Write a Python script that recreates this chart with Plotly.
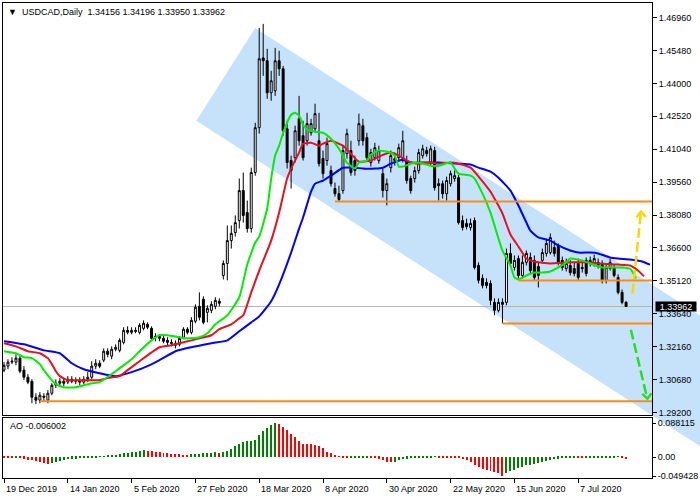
import plotly.graph_objects as go

# ---------------- data ----------------
date_ticks = [0, 16, 32, 48, 64, 80, 96, 112, 128, 144]
date_labels = ["19 Dec 2019", "14 Jan 2020", "5 Feb 2020", "27 Feb 2020", "18 Mar 2020",
               "8 Apr 2020", "30 Apr 2020", "22 May 2020", "15 Jun 2020", "7 Jul 2020"]

opens = [
    1.3110, 1.3128, 1.3146, 1.3146, 1.3164, 1.3110, 1.3078, 1.3060, 1.2988, 1.2975,
    1.2993, 1.2975, 1.3006, 1.3042, 1.3051, 1.3060, 1.3056, 1.3069, 1.3060, 1.3065,
    1.3056, 1.3069, 1.3078, 1.3128, 1.3141, 1.3155, 1.3195, 1.3173, 1.3204, 1.3199,
    1.3235, 1.3289, 1.3280, 1.3289, 1.3280, 1.3298, 1.3316, 1.3298, 1.3258, 1.3262,
    1.3253, 1.3244, 1.3235, 1.3231, 1.3226, 1.3258, 1.3294, 1.3280, 1.3330, 1.3397,
    1.3429, 1.3370, 1.3379, 1.3397, 1.3420, 1.3536, 1.3590, 1.3693, 1.3729, 1.3783,
    1.3918, 1.3819, 1.3747, 1.3999, 1.4201, 1.4515, 1.4502, 1.4358, 1.4367, 1.4502,
    1.4466, 1.4196, 1.4053, 1.4066, 1.4241, 1.4165, 1.4142, 1.4178, 1.4196, 1.4142,
    1.4062, 1.4053, 1.4008, 1.3927, 1.3904, 1.3918, 1.4084, 1.4098, 1.4053, 1.4142,
    1.4210, 1.4156, 1.4044, 1.4066, 1.4053, 1.3994, 1.3918, 1.4021, 1.4053, 1.4066,
    1.4062, 1.4053, 1.3972, 1.3972, 1.4008, 1.4075, 1.4098, 1.4044, 1.4098, 1.3949,
    1.3949, 1.3904, 1.3949, 1.3972, 1.3976, 1.3783, 1.3770, 1.3752, 1.3783, 1.3581,
    1.3523, 1.3505, 1.3500, 1.3415, 1.3379, 1.3415, 1.3415, 1.3635, 1.3572, 1.3612,
    1.3536, 1.3595, 1.3617, 1.3604, 1.3576, 1.3604, 1.3635, 1.3639, 1.3662, 1.3671,
    1.3604, 1.3567, 1.3581, 1.3567, 1.3590, 1.3572, 1.3604, 1.3604, 1.3590, 1.3595,
    1.3590, 1.3514, 1.3567, 1.3572, 1.3527, 1.3460, 1.34156]
highs = [
    1.3146, 1.3159, 1.3168, 1.3181, 1.3173, 1.3128, 1.3092, 1.3069, 1.3006, 1.3011,
    1.3006, 1.3020, 1.3051, 1.3069, 1.3074, 1.3074, 1.3083, 1.3083, 1.3078, 1.3078,
    1.3083, 1.3101, 1.3150, 1.3159, 1.3155, 1.3208, 1.3208, 1.3217, 1.3226, 1.3253,
    1.3303, 1.3307, 1.3303, 1.3303, 1.3321, 1.3334, 1.3325, 1.3307, 1.3276, 1.3271,
    1.3267, 1.3258, 1.3249, 1.3244, 1.3262, 1.3303, 1.3303, 1.3348, 1.3406, 1.3460,
    1.3442, 1.3402, 1.3420, 1.3438, 1.3433, 1.3604, 1.3761, 1.3761, 1.3806, 1.3972,
    1.3999, 1.3873, 1.4021, 1.4223, 1.4650, 1.4668, 1.4556, 1.4457, 1.4560, 1.4547,
    1.4479, 1.4232, 1.4075, 1.4210, 1.4344, 1.4232, 1.4268, 1.4241, 1.4309, 1.4268,
    1.4098, 1.4156, 1.4030, 1.3954, 1.3940, 1.4120, 1.4196, 1.4142, 1.4075, 1.4264,
    1.4241, 1.4178, 1.4106, 1.4133, 1.4120, 1.4017, 1.3972, 1.4098, 1.4089, 1.4129,
    1.4187, 1.4075, 1.3985, 1.4026, 1.4106, 1.4124, 1.4115, 1.4120, 1.4115, 1.3972,
    1.3963, 1.3981, 1.4008, 1.4008, 1.3990, 1.3806, 1.3792, 1.3792, 1.3797, 1.3595,
    1.3541, 1.3523, 1.3514, 1.3433, 1.3433, 1.3433, 1.3657, 1.3680, 1.3626, 1.3626,
    1.3626, 1.3648, 1.3639, 1.3626, 1.3595, 1.3657, 1.3702, 1.3725, 1.3693, 1.3680,
    1.3621, 1.3612, 1.3604, 1.3595, 1.3612, 1.3595, 1.3617, 1.3621, 1.3630, 1.3612,
    1.3604, 1.3585, 1.3612, 1.3585, 1.3541, 1.3473, 1.34196]
lows = [
    1.3101, 1.3114, 1.3137, 1.3132, 1.3096, 1.3065, 1.3047, 1.2961, 1.2957, 1.2961,
    1.2970, 1.2961, 1.2997, 1.3029, 1.3038, 1.3038, 1.3047, 1.3051, 1.3047, 1.3042,
    1.3047, 1.3056, 1.3069, 1.3114, 1.3119, 1.3146, 1.3168, 1.3159, 1.3195, 1.3190,
    1.3226, 1.3271, 1.3271, 1.3276, 1.3271, 1.3289, 1.3294, 1.3244, 1.3240, 1.3240,
    1.3231, 1.3222, 1.3217, 1.3208, 1.3217, 1.3249, 1.3271, 1.3271, 1.3321, 1.3334,
    1.3316, 1.3325, 1.3366, 1.3384, 1.3397, 1.3518, 1.3514, 1.3657, 1.3711, 1.3747,
    1.3774, 1.3729, 1.3729, 1.3985, 1.4174, 1.4434, 1.4331, 1.4322, 1.4344, 1.4434,
    1.4165, 1.4017, 1.3927, 1.4044, 1.4120, 1.4053, 1.4120, 1.4165, 1.4183, 1.4026,
    1.3972, 1.4030, 1.3936, 1.3891, 1.3869, 1.3904, 1.4062, 1.3985, 1.3985, 1.4120,
    1.4120, 1.4053, 1.4026, 1.4053, 1.4039, 1.3887, 1.3851, 1.3999, 1.4030, 1.4053,
    1.4044, 1.3949, 1.3904, 1.3954, 1.3994, 1.4062, 1.4071, 1.4030, 1.3918, 1.3873,
    1.3882, 1.3873, 1.3936, 1.3958, 1.3765, 1.3738, 1.3743, 1.3738, 1.3563, 1.3500,
    1.3478, 1.3478, 1.3402, 1.3357, 1.3370, 1.3321, 1.3402, 1.3576, 1.3558, 1.3523,
    1.3523, 1.3581, 1.3541, 1.3514, 1.3482, 1.3590, 1.3621, 1.3630, 1.3621, 1.3581,
    1.3558, 1.3554, 1.3536, 1.3532, 1.3514, 1.3549, 1.3532, 1.3576, 1.3576, 1.3567,
    1.3500, 1.3500, 1.3558, 1.3527, 1.3451, 1.3406, 1.33950]
closes = [
    1.3132, 1.3146, 1.3150, 1.3164, 1.3105, 1.3078, 1.3056, 1.2988, 1.2975, 1.2997,
    1.2988, 1.3006, 1.3042, 1.3051, 1.3060, 1.3051, 1.3069, 1.3060, 1.3065, 1.3056,
    1.3069, 1.3078, 1.3128, 1.3141, 1.3128, 1.3195, 1.3181, 1.3204, 1.3213, 1.3244,
    1.3289, 1.3280, 1.3289, 1.3285, 1.3312, 1.3321, 1.3303, 1.3253, 1.3262, 1.3253,
    1.3240, 1.3235, 1.3231, 1.3222, 1.3253, 1.3294, 1.3280, 1.3334, 1.3393, 1.3348,
    1.3325, 1.3388, 1.3406, 1.3424, 1.3411, 1.3590, 1.3693, 1.3725, 1.3774, 1.3918,
    1.3806, 1.3747, 1.3999, 1.4201, 1.4511, 1.4502, 1.4358, 1.4412, 1.4502, 1.4466,
    1.4187, 1.4044, 1.4008, 1.4187, 1.4142, 1.4066, 1.4219, 1.4219, 1.4264, 1.4039,
    1.3994, 1.4129, 1.3949, 1.3904, 1.3878, 1.4098, 1.4174, 1.3999, 1.4008, 1.4219,
    1.4142, 1.4066, 1.4089, 1.4111, 1.4098, 1.3918, 1.3949, 1.4075, 1.4062, 1.4111,
    1.4142, 1.3963, 1.3918, 1.4008, 1.4089, 1.4106, 1.4084, 1.4106, 1.3931, 1.3940,
    1.3904, 1.3963, 1.3994, 1.3985, 1.3774, 1.3752, 1.3756, 1.3770, 1.3572, 1.3514,
    1.3491, 1.3491, 1.3424, 1.3379, 1.3415, 1.3406, 1.3635, 1.3590, 1.3604, 1.3536,
    1.3595, 1.3635, 1.3558, 1.3527, 1.3536, 1.3639, 1.3680, 1.3707, 1.3635, 1.3595,
    1.3572, 1.3590, 1.3549, 1.3545, 1.3527, 1.3567, 1.3545, 1.3590, 1.3612, 1.3581,
    1.3514, 1.3572, 1.3595, 1.3536, 1.3460, 1.3415, 1.33962]
bars = list(range(len(closes)))

# Alligator lines (bar index, price)
jaw_i = [0, 5, 10, 14, 17, 20, 24, 28, 32, 36, 39, 43, 47, 52, 56, 59, 62, 64, 67, 69,
         72, 74, 75, 77, 78, 80, 82, 85, 88, 90, 93, 95, 97, 100, 102, 105, 109, 114, 117, 119,
         122, 124, 127, 129, 131, 132, 134, 137, 139, 142, 144, 147, 149, 152, 154, 157, 160, 162]
jaw_p = [1.3240, 1.3226, 1.3199, 1.3186, 1.3141, 1.3114, 1.3096, 1.3083, 1.3101, 1.3128,
         1.3155, 1.3195, 1.3213, 1.3231, 1.3244, 1.3285, 1.3325, 1.3352, 1.3420, 1.3496,
         1.3639, 1.3747, 1.3797, 1.3913, 1.3949, 1.3963, 1.3985, 1.4021, 1.4021, 1.4017,
         1.4017, 1.4021, 1.4039, 1.4057, 1.4044, 1.4044, 1.4044, 1.4039, 1.4035, 1.4021,
         1.4003, 1.3976, 1.3918, 1.3851, 1.3774, 1.3738, 1.3707, 1.3693, 1.3671, 1.3648,
         1.3639, 1.3639, 1.3635, 1.3617, 1.3612, 1.3608, 1.3599, 1.3585]
teeth_i = [0, 3, 6, 9, 11, 12, 13, 14, 16, 20, 24, 26, 29, 31, 34, 37, 39, 42, 44, 47,
           49, 52, 54, 57, 59, 60, 62, 64, 67, 69, 71, 72, 74, 75, 77, 79, 80, 82, 85, 87,
           89, 92, 94, 97, 99, 102, 104, 107, 109, 112, 114, 117, 119, 122, 123, 125, 127, 129, 131, 132,
           134, 137, 142, 147, 149, 154, 157, 159, 160.5]
teeth_p = [1.3231, 1.3217, 1.3195, 1.3186, 1.3164, 1.3137, 1.3105, 1.3083, 1.3065, 1.3065,
           1.3065, 1.3074, 1.3083, 1.3110, 1.3150, 1.3190, 1.3213, 1.3222, 1.3231, 1.3244,
           1.3253, 1.3267, 1.3294, 1.3316, 1.3343, 1.3357, 1.3460, 1.3558, 1.3693, 1.3819,
           1.3972, 1.4017, 1.4089, 1.4129, 1.4133, 1.4120, 1.4129, 1.4142, 1.4120, 1.4084,
           1.4048, 1.4053, 1.4071, 1.4089, 1.4075, 1.4044, 1.4039, 1.4044, 1.4039, 1.4044,
           1.4039, 1.4021, 1.3981, 1.3913, 1.3882, 1.3815, 1.3720, 1.3666, 1.3612, 1.3604,
           1.3595, 1.3590, 1.3595, 1.3595, 1.3590, 1.3585, 1.3581, 1.3558, 1.3532]
lips_i = [0, 3, 5, 7, 9, 10, 12, 13, 15, 18, 20, 22, 24, 27, 29, 32, 34, 37, 39, 41,
          44, 46, 49, 51, 53, 56, 59, 61, 63, 64, 66, 67, 68, 69, 70, 72, 73, 74, 75, 76,
          78, 80, 82, 84, 86, 88, 89, 91, 92, 94, 97, 98, 99, 100, 102, 104, 107, 109, 112, 113,
          114, 117, 118, 120, 122, 124, 125, 127, 128, 129, 131, 133, 135, 137, 139, 141, 142, 145, 147, 150,
          152, 155, 157, 158, 158.5]
lips_p = [1.3195, 1.3186, 1.3168, 1.3164, 1.3137, 1.3110, 1.3065, 1.3047, 1.3033, 1.3033,
          1.3042, 1.3051, 1.3056, 1.3092, 1.3119, 1.3159, 1.3195, 1.3244, 1.3267, 1.3267,
          1.3258, 1.3253, 1.3258, 1.3276, 1.3316, 1.3357, 1.3438, 1.3585, 1.3684, 1.3711,
          1.3837, 1.3972, 1.4075, 1.4120, 1.4178, 1.4259, 1.4268, 1.4255, 1.4214, 1.4192,
          1.4183, 1.4178, 1.4151, 1.4106, 1.4044, 1.4017, 1.4044, 1.4053, 1.4080, 1.4098,
          1.4089, 1.4075, 1.4026, 1.4026, 1.4039, 1.4044, 1.4030, 1.4030, 1.4044, 1.4017,
          1.3994, 1.3985, 1.3972, 1.3904, 1.3819, 1.3702, 1.3648, 1.3581, 1.3527, 1.3518,
          1.3536, 1.3549, 1.3549, 1.3554, 1.3572, 1.3595, 1.3612, 1.3604, 1.3590, 1.3572,
          1.3572, 1.3572, 1.3567, 1.3541, 1.3523]

# Awesome Oscillator values
ao = [
    -0.0025, -0.0025, -0.0034, -0.0025, -0.0034, -0.0050, -0.0076, -0.0092, -0.0101, -0.0134,
    -0.0160, -0.0176, -0.0160, -0.0134, -0.0101, -0.0076, -0.0059, -0.0050, -0.0042, -0.0034,
    -0.0030, -0.0025, -0.0017, -0.0008, 0.0001, 0.0017, 0.0025, 0.0042, 0.0059, 0.0076,
    0.0092, 0.0109, 0.0126, 0.0134, 0.0151, 0.0168, 0.0151, 0.0143, 0.0134, 0.0118,
    0.0109, 0.0092, 0.0084, 0.0076, 0.0067, 0.0059, 0.0055, 0.0067, 0.0076, 0.0084,
    0.0092, 0.0101, 0.0109, 0.0118, 0.0109, 0.0126, 0.0160, 0.0202, 0.0286, 0.0344,
    0.0386, 0.0412, 0.0415, 0.0445, 0.0580, 0.0680, 0.0760, 0.0830, 0.088115, 0.0848,
    0.0781, 0.0697, 0.0596, 0.0512, 0.0403, 0.0344, 0.0340, 0.0328, 0.0319, 0.0277,
    0.0235, 0.0134, 0.0092, 0.0025, 0.0008, -0.0010, -0.0020, -0.0017, -0.0013, -0.0008,
    -0.0004, -0.0003, -0.0005, -0.0010, -0.0050, -0.0092, -0.0126, -0.0143, -0.0134, -0.0092,
    -0.0059, -0.0042, -0.0034, -0.0029, -0.0025, -0.0021, -0.0017, -0.0013, -0.0002, -0.0017,
    -0.0021, -0.0025, -0.0027, -0.0030, -0.0034, -0.0059, -0.0092, -0.0143, -0.0202, -0.0260,
    -0.0302, -0.0344, -0.0370, -0.0395, -0.0428, -0.049428, -0.0428, -0.0378, -0.0336, -0.0294,
    -0.0252, -0.0218, -0.0202, -0.0176, -0.0160, -0.0143, -0.0118, -0.0092, -0.0059, -0.0042,
    -0.0034, -0.0025, -0.0021, -0.0017, -0.0019, -0.0022, -0.0018, -0.0015, -0.0013, -0.0012,
    -0.0010, -0.0008, -0.0006, -0.0005, -0.0002, -0.0003, -0.006002]

price_ticks = [1.29200, 1.30680, 1.32160, 1.33640, 1.35120, 1.36600, 1.38080,
               1.39560, 1.41040, 1.42520, 1.44000, 1.45480, 1.46960]
ao_ticks = [0.088115, 0.0, -0.049428]
ao_tick_labels = ["0.088115", "0.00", "-0.049428"]

last_price = 1.33962
title_text = "USDCAD,Daily  1.34156 1.34196 1.33950 1.33962"
ao_text = "AO -0.006002"

# drawing objects (bar index / price)
level_prices = [1.3869, 1.3513, 1.3320, 1.2970]
level_start = [83, 129, 125, 9]
channel_i = [48.25, 63.0]          # lower-line start, upper-line start
channel_p = [1.42322, 1.46498]
channel_slope = -0.0011602         # price per bar
channel_end_i = 175.0
up_arrow_i = [157.6, 159.7]
up_arrow_p = [1.3454, 1.3818]
up_head_i = [158.6, 159.8, 160.95]
up_head_p = [1.3798, 1.3824, 1.3799]
dn_arrow_i = [157.2, 161.2]
dn_arrow_p = [1.3292, 1.2990]
dn_head_i = [160.05, 161.35, 162.4]
dn_head_p = [1.3003, 1.2982, 1.3006]

# ---------------- layout constants ----------------
XR = [-0.25, 162.5]
YR = [1.29076, 1.4762]
AOR = [-0.0544, 0.1011]
MAIN_DOM = [0.1324, 1.0]
AO_DOM = [0.0, 0.126]
FONT = "Liberation Sans"

fig = go.Figure()

fig.add_trace(go.Candlestick(
    x=bars, open=opens, high=highs, low=lows, close=closes,
    increasing=dict(line=dict(color="black", width=1), fillcolor="white"),
    decreasing=dict(line=dict(color="black", width=1), fillcolor="black"),
    whiskerwidth=0, showlegend=False, hoverinfo="skip", xaxis="x", yaxis="y"))

for xs, ys, col in [(jaw_i, jaw_p, "#0000ff"), (teeth_i, teeth_p, "#e8101e"), (lips_i, lips_p, "#00ee00")]:
    fig.add_trace(go.Scatter(x=xs, y=ys, mode="lines",
                             line=dict(color=col, width=2, shape="spline", smoothing=0.5),
                             showlegend=False, hoverinfo="skip", xaxis="x", yaxis="y"))

# arrows
fig.add_trace(go.Scatter(x=up_arrow_i, y=up_arrow_p, mode="lines",
                         line=dict(color="#ffd700", width=2.5, dash="10px,4px"),
                         showlegend=False, hoverinfo="skip"))
fig.add_trace(go.Scatter(x=up_head_i, y=up_head_p, mode="lines",
                         line=dict(color="#ffd700", width=2.5),
                         showlegend=False, hoverinfo="skip"))
fig.add_trace(go.Scatter(x=dn_arrow_i, y=dn_arrow_p, mode="lines",
                         line=dict(color="#22e022", width=2.5, dash="10px,4px"),
                         showlegend=False, hoverinfo="skip"))
fig.add_trace(go.Scatter(x=dn_head_i, y=dn_head_p, mode="lines",
                         line=dict(color="#22e022", width=2.5),
                         showlegend=False, hoverinfo="skip"))

# AO histogram
ao_colors = ["#ff0000" if k == 0 or ao[k] <= ao[k - 1] else "#008000" for k in range(len(ao))]
fig.add_trace(go.Bar(x=bars, y=ao, width=0.25, marker=dict(color=ao_colors, line=dict(width=0)),
                     showlegend=False, hoverinfo="skip", xaxis="x2", yaxis="y2"))


def paper_pt(i, p):
    return ((i - XR[0]) / (XR[1] - XR[0]),
            MAIN_DOM[0] + (p - YR[0]) / (YR[1] - YR[0]) * (MAIN_DOM[1] - MAIN_DOM[0]))


lo_i, up_i = channel_i
lo_p, up_p = channel_p
corners = [(lo_i, lo_p), (up_i, up_p),
           (channel_end_i, up_p + channel_slope * (channel_end_i - up_i)),
           (channel_end_i, lo_p + channel_slope * (channel_end_i - lo_i))]
path = "M " + " L ".join("%.5f,%.5f" % paper_pt(a, b) for a, b in corners) + " Z"

shapes = [
    dict(type="path", path=path, xref="paper", yref="paper", layer="below",
         fillcolor="rgb(198,226,250)", line=dict(width=0)),
    dict(type="rect", xref="paper", yref="paper", x0=0, x1=1, y0=AO_DOM[0], y1=AO_DOM[1],
         layer="below", fillcolor="white", line=dict(width=0)),
    dict(type="line", xref="x", yref="y", x0=XR[0], x1=XR[1], y0=last_price, y1=last_price,
         layer="below", line=dict(color="#b4b4b4", width=1)),
]
for lp, ls in zip(level_prices, level_start):
    shapes.append(dict(type="line", xref="x", yref="y", x0=ls, x1=XR[1], y0=lp, y1=lp,
                       layer="above", line=dict(color="#ff8a14", width=2)))

annotations = [
    dict(xref="paper", yref="paper", x=0, y=(476 - 9) / 476, xanchor="left", yanchor="middle",
         xshift=3, showarrow=False, align="left",
         text="<span style='font-size:9px'>\u25bc</span>&nbsp;&nbsp;" + title_text.replace("  ", "&nbsp;&nbsp;"),
         font=dict(family=FONT, size=9, color="black")),
    dict(xref="paper", yref="paper", x=0, y=(476 - 424) / 476, xanchor="left", yanchor="middle",
         xshift=5, showarrow=False, text=ao_text, font=dict(family=FONT, size=9, color="black")),
    dict(xref="paper", yref="y", x=1, y=last_price, xanchor="left", yanchor="middle", xshift=3,
         showarrow=False, text="%.5f" % last_price, bgcolor="black", width=40, height=9,
         borderpad=0, font=dict(family=FONT, size=9, color="white")),
]
for t, lab in zip(date_ticks, date_labels):
    annotations.append(dict(xref="x2", yref="paper", x=t, y=-11 / 476, xanchor="left",
                            yanchor="middle", xshift=0, showarrow=False, text=lab,
                            font=dict(family=FONT, size=9, color="black")))

axis_common = dict(showgrid=False, zeroline=False, showline=True, mirror=True,
                   linecolor="black", linewidth=1, fixedrange=True)

fig.update_layout(
    width=700, height=500,
    margin=dict(l=2, r=47, t=2, b=22, pad=0),
    paper_bgcolor="white", plot_bgcolor="rgba(0,0,0,0)",
    font=dict(family=FONT, size=9, color="black"),
    showlegend=False, hovermode=False, bargap=0,
    xaxis=dict(domain=[0, 1], range=XR, anchor="y", showticklabels=False, ticks="",
               rangeslider=dict(visible=False), **axis_common),
    yaxis=dict(domain=MAIN_DOM, range=YR, anchor="x", side="right",
               tickvals=price_ticks, ticktext=["%.5f" % v for v in price_ticks],
               ticks="outside", ticklen=4, tickcolor="black",
               tickfont=dict(family=FONT, size=9, color="black"), **axis_common),
    xaxis2=dict(domain=[0, 1], range=XR, anchor="y2", tickvals=date_ticks,
                ticktext=[""] * len(date_ticks), ticks="outside", ticklen=4, tickcolor="black",
                **axis_common),
    yaxis2=dict(domain=AO_DOM, range=AOR, anchor="x2", side="right",
                tickvals=ao_ticks, ticktext=ao_tick_labels, ticks="outside", ticklen=3,
                tickcolor="black", tickfont=dict(family=FONT, size=9, color="black"),
                **axis_common),
    shapes=shapes, annotations=annotations,
)

fig.write_html("out.html", config={"displayModeBar": False},
               post_script="document.body.style.margin='0px';document.body.style.overflow='hidden';")
